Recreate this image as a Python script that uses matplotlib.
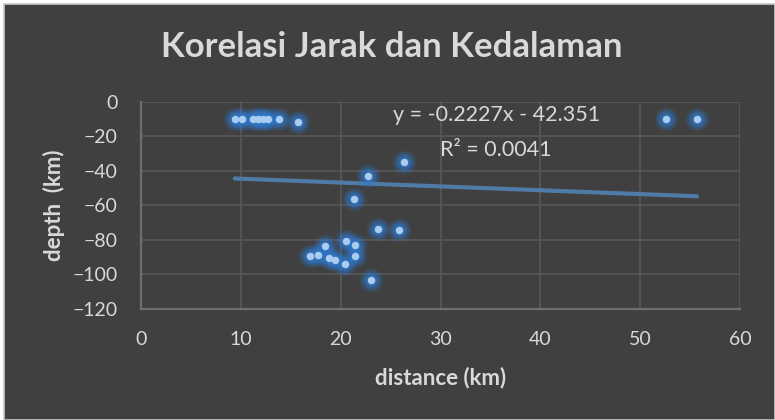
import matplotlib
matplotlib.use("Agg")
import matplotlib.pyplot as plt
from matplotlib.patches import Rectangle

plt.rcParams['font.family'] = ['Lato', 'DejaVu Sans']

# Epicentre distance (km) and hypocentre depth (km)
distance = [9.4, 10.1, 11.2, 11.7, 12.2, 12.7, 13.8, 15.7,
            52.6, 55.7,
            26.3, 22.7, 21.3, 23.7, 25.8,
            20.5, 21.4, 21.4, 20.4, 19.4, 23.0,
            16.9, 17.7, 18.4, 18.8]
depth = [-10, -10, -10, -10, -10, -10, -10, -11.8,
         -10, -10,
         -34.8, -42.9, -56.6, -73.6, -74.2,
         -80.6, -83.1, -89.6, -93.7, -91.8, -103,
         -89.3, -88.5, -83.7, -90.6]

# Linear trendline as reported
slope = -0.2227
intercept = -42.351
r_squared = 0.0041

x_ticks = [0, 10, 20, 30, 40, 50, 60]
y_ticks = [0, -20, -40, -60, -80, -100, -120]

BG = '#404040'
TXT = '#d9d9d9'
GRID = '#595959'

W, H = 775, 420
fig = plt.figure(figsize=(W / 100, H / 100), dpi=100)
fig.patch.set_facecolor('white')
fig.patches.append(Rectangle((4 / W, 0), 1 - 4 / W, 1 - 4 / H, transform=fig.transFigure,
                             facecolor=BG, edgecolor='#c8c8c8', linewidth=1.2, zorder=-10))

ax = fig.add_axes([141 / W, 1 - 309 / H, (740 - 141) / W, (309 - 101.7) / H])
ax.set_facecolor(BG)
ax.set_xlim(0, 60)
ax.set_ylim(-120, 0)
ax.set_xticks(x_ticks)
ax.set_yticks(y_ticks)
ax.tick_params(length=0, colors=TXT, labelsize=14)
ax.tick_params(axis='y', pad=17)
ax.tick_params(axis='x', pad=16)
ax.grid(True, color=GRID, linewidth=1.2)
ax.set_axisbelow(True)
for s in ['top', 'right']:
    ax.spines[s].set_visible(False)
for s in ['left', 'bottom']:
    ax.spines[s].set_color('#6e6e6e')
    ax.spines[s].set_linewidth(1.6)

# trendline across the data range
x0, x1 = min(distance), max(distance)
ax.plot([x0, x1], [slope * x0 + intercept, slope * x1 + intercept],
        color='#4f7ca6', linewidth=3.0, solid_capstyle='round', zorder=2)

# glowing markers
for d, a in [(24, 0.12), (21, 0.15), (18, 0.2), (15, 0.25), (12, 0.35)]:
    ax.scatter(distance, depth, s=(d * 0.72) ** 2, color='#2f7ad0', alpha=a,
               linewidths=0, zorder=3)
ax.scatter(distance, depth, s=(7.5 * 0.72) ** 2, color='#a9cdf0', linewidths=0, zorder=4)

ax.text(0.593, 0.936, f"y = {slope}x - {abs(intercept)}", transform=ax.transAxes,
        color=TXT, fontsize=15.5, ha='center', va='center', zorder=5)
ax.text(0.593, 0.767, f"R² = {r_squared}", transform=ax.transAxes,
        color=TXT, fontsize=15.5, ha='center', va='center', zorder=5)

ax.set_xlabel('distance (km)', color=TXT, fontsize=16, fontweight='bold', labelpad=13)
ax.set_ylabel('depth  (km)', color=TXT, fontsize=16, fontweight='bold', labelpad=5)

fig.text(392 / W, 1 - 47 / H, 'Korelasi Jarak dan Kedalaman', color=TXT,
         fontsize=25, fontweight='bold', ha='center', va='center')

fig.savefig('out.png', dpi=100, facecolor=fig.get_facecolor())
